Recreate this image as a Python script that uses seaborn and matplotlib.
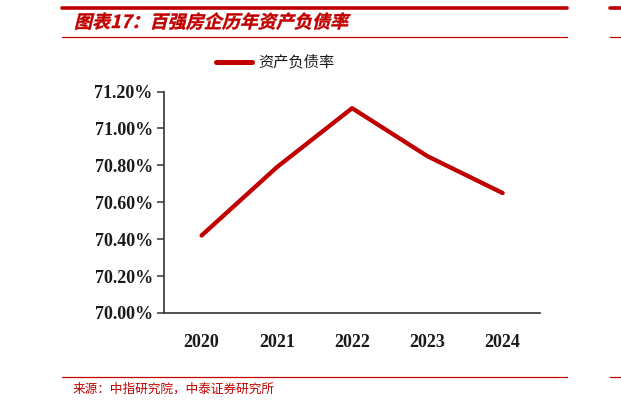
import matplotlib.pyplot as plt
import matplotlib.lines as mlines
import pandas as pd
import seaborn as sns
from matplotlib.font_manager import FontProperties
from matplotlib.patches import PathPatch
from matplotlib.textpath import TextPath
from matplotlib.transforms import Affine2D
from matplotlib.ticker import FuncFormatter

RED = '#C00000'

years = ['2020', '2021', '2022', '2023', '2024']
debt_ratio = [70.42, 70.79, 71.11, 70.85, 70.65]
y_ticks = [70.0, 70.2, 70.4, 70.6, 70.8, 71.0, 71.2]

title = '图表17：百强房企历年资产负债率'
series_name = '资产负债率'
source = '来源：中指研究院，中泰证券研究所'

sns.set_style('white')
plt.rcParams['font.family'] = ['Noto Sans CJK SC', 'DejaVu Sans']

df = pd.DataFrame({'year': years, series_name: debt_ratio})

W, H = 621, 407
fig = plt.figure(figsize=(W / 100, H / 100), dpi=100)
ax = fig.add_axes([0.264, 0.231, 0.606, 0.544])

sns.lineplot(data=df, x='year', y=series_name, color=RED, linewidth=3.1,
             sort=False, ax=ax, legend=False)

ax.set_xlim(-0.5, len(years) - 0.5)
ax.set_ylim(70.0, 71.2)
ax.set_yticks(y_ticks)
ax.yaxis.set_major_formatter(FuncFormatter(lambda v, p: '%.2f%%' % v))
ax.set_xlabel('')
ax.set_ylabel('')

for side in ['top', 'right']:
    ax.spines[side].set_visible(False)
for side in ['left', 'bottom']:
    ax.spines[side].set_color('#333333')
    ax.spines[side].set_linewidth(1.2)

ax.tick_params(axis='y', which='major', direction='out', length=5, width=1.1,
               color='#333333', left=True, pad=3)
ax.tick_params(axis='x', length=0, pad=15)
for lab in ax.get_yticklabels() + ax.get_xticklabels():
    lab.set_fontfamily('Liberation Serif')
    lab.set_fontweight('bold')
    lab.set_fontsize(13)
    lab.set_color('#1a1a1a')

# header / footer rules
def hline(x0, x1, y, lw):
    fig.add_artist(mlines.Line2D([x0 / W, x1 / W], [1 - y / H] * 2, color=RED, lw=lw))

hline(62, 567, 8, 2.6)
hline(610, W, 8, 2.6)
hline(62, 567, 37, 0.9)
hline(610, W, 37, 0.9)
hline(62, 567, 377, 0.9)
hline(610, W, 377, 0.9)

# italic (sheared) bold title, CJK fonts have no italic face
fp = FontProperties(family='Noto Sans CJK SC', weight='bold')
tp = TextPath((0, 0), title, size=13, prop=fp)
tr = (Affine2D().skew_deg(14, 0).scale(1 / 72)
      + Affine2D().translate(74 / 100, (H - 28) / 100)
      + fig.dpi_scale_trans)
fig.add_artist(PathPatch(tp, transform=tr, facecolor=RED, edgecolor=RED, lw=0.3))

fig.text(73 / W, 1 - 389 / H, source, color=RED, fontsize=9.1, va='center', ha='left')

# legend
fig.add_artist(mlines.Line2D([216 / W, 252 / W], [1 - 62 / H] * 2, color=RED, lw=3.6,
                             solid_capstyle='round'))
fig.text(258 / W, 1 - 62 / H, series_name, color='#1a1a1a', fontsize=11,
         va='center', ha='left')

plt.savefig('out.png', dpi=100)
plt.close()
